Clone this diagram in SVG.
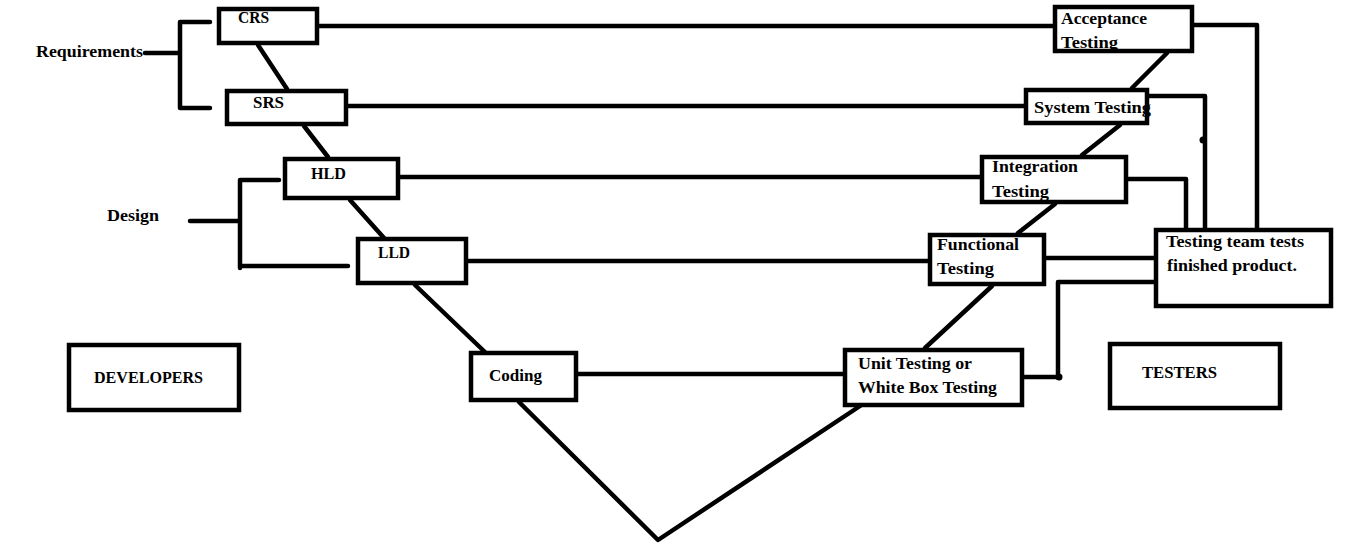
<svg xmlns="http://www.w3.org/2000/svg" width="1355" height="557" viewBox="0 0 1355 557">
<style>
.box{fill:#fff;stroke:#000;stroke-width:4.5}
.ln{fill:none;stroke:#000;stroke-width:4.5;stroke-linecap:round;stroke-linejoin:round}
text{font-family:"Liberation Serif","Times New Roman",serif;font-weight:bold;font-size:17px;fill:#000}
.cap{font-size:16px}
</style>
<rect width="1355" height="557" fill="#fff"/>
<g id="connectors">
<path class="ln" d="M145,53 H180 M180,22 V108 M180,22 H210 M180,108 H210"/>
<path class="ln" d="M190,221 H240 M240,180 V268 M240,180 H279 M240,266 H348"/>
<path class="ln" d="M319,26 H1053"/>
<path class="ln" d="M348,106 H1024"/>
<path class="ln" d="M400,177 H980"/>
<path class="ln" d="M468,261 H928"/>
<path class="ln" d="M578,374 H843"/>
<path class="ln" d="M258,45 L287,89"/>
<path class="ln" d="M304,126 L328,157"/>
<path class="ln" d="M350,200 L384,238"/>
<path class="ln" d="M415,285 L487,354"/>
<path class="ln" d="M519,402 L658,540 L860,406"/>
<path class="ln" d="M925,348 L992,286"/>
<path class="ln" d="M1018,233 L1055,204"/>
<path class="ln" d="M1082,155 L1120,125"/>
<path class="ln" d="M1132,88 L1167,53"/>
<path class="ln" d="M1194,25 H1257 V228"/>
<path class="ln" d="M1149,96 H1205 V228"/>
<circle cx="1203" cy="140" r="3.5" fill="#000"/>
<path class="ln" d="M1128,179 H1186 V228"/>
<path class="ln" d="M1046,258 H1154"/>
<path class="ln" d="M1024,377 H1058 V282 H1154"/>
<circle cx="1059" cy="377" r="3.5" fill="#000"/>
</g>
<g id="requirements"><text x="36" y="57" textLength="107" lengthAdjust="spacingAndGlyphs">Requirements</text></g>
<g id="design"><text x="107" y="221" textLength="52" lengthAdjust="spacingAndGlyphs">Design</text></g>
<g id="crs"><rect class="box" x="219" y="9" width="98" height="34"/><text x="238" y="23" textLength="31" lengthAdjust="spacingAndGlyphs">CRS</text></g>
<g id="srs"><rect class="box" x="227" y="91" width="119" height="33"/><text x="253" y="108" textLength="31" lengthAdjust="spacingAndGlyphs">SRS</text></g>
<g id="hld"><rect class="box" x="285" y="159" width="113" height="39"/><text x="311" y="179" textLength="35" lengthAdjust="spacingAndGlyphs">HLD</text></g>
<g id="lld"><rect class="box" x="358" y="239" width="108" height="44"/><text x="378" y="258" textLength="32" lengthAdjust="spacingAndGlyphs">LLD</text></g>
<g id="coding"><rect class="box" x="471" y="353" width="105" height="47"/><text x="489" y="381" textLength="53" lengthAdjust="spacingAndGlyphs">Coding</text></g>
<g id="unit-testing"><rect class="box" x="845" y="350" width="177" height="55"/><text x="858" y="369" textLength="114" lengthAdjust="spacingAndGlyphs">Unit Testing or</text><text x="858" y="393" textLength="139" lengthAdjust="spacingAndGlyphs">White Box Testing</text></g>
<g id="functional-testing"><rect class="box" x="930" y="235" width="114" height="49"/><text x="937" y="250" textLength="82" lengthAdjust="spacingAndGlyphs">Functional</text><text x="937" y="274" textLength="57" lengthAdjust="spacingAndGlyphs">Testing</text></g>
<g id="integration-testing"><rect class="box" x="982" y="157" width="144" height="45"/><text x="992" y="172" textLength="86" lengthAdjust="spacingAndGlyphs">Integration</text><text x="992" y="197" textLength="57" lengthAdjust="spacingAndGlyphs">Testing</text></g>
<g id="system-testing"><rect class="box" x="1026" y="90" width="121" height="33"/><text x="1034" y="113" textLength="117" lengthAdjust="spacingAndGlyphs">System Testing</text></g>
<g id="acceptance-testing"><rect class="box" x="1055" y="7" width="137" height="44"/><text x="1061" y="24" textLength="86" lengthAdjust="spacingAndGlyphs">Acceptance</text><text x="1061" y="48" textLength="57" lengthAdjust="spacingAndGlyphs">Testing</text></g>
<g id="testing-team"><rect class="box" x="1156" y="230" width="175" height="76"/><text x="1166" y="247" textLength="138" lengthAdjust="spacingAndGlyphs">Testing team tests</text><text x="1167" y="271" textLength="130" lengthAdjust="spacingAndGlyphs">finished product.</text></g>
<g id="developers"><rect class="box" x="69" y="345" width="170" height="65"/><text class="cap" x="94" y="383" textLength="109" lengthAdjust="spacingAndGlyphs">DEVELOPERS</text></g>
<g id="testers"><rect class="box" x="1110" y="344" width="170" height="64"/><text class="cap" x="1142" y="378" textLength="75" lengthAdjust="spacingAndGlyphs">TESTERS</text></g>
</svg>
